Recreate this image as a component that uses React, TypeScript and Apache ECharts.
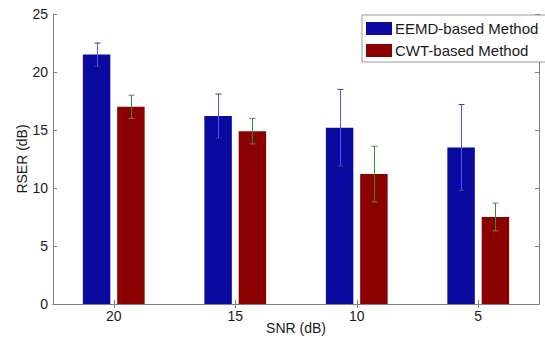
import React, { useEffect, useRef } from "react";
import * as echarts from "echarts";

const categories = ["20", "15", "10", "5"];
const eemdValues = [21.5, 16.2, 15.2, 13.5];
const eemdErrors = [1.0, 1.9, 3.3, 3.7];
const cwtValues = [17.0, 14.9, 11.2, 7.5];
const cwtErrors = [1.0, 1.1, 2.4, 1.2];
const seriesNames = ["EEMD-based Method", "CWT-based Method"];

const FONT = "Liberation Sans, Arial, sans-serif";
const BAR_W = 0.226;
const BAR_GAP = 0.25;

function errorSeries(values: number[], errors: number[], side: number, lineColor: string, capColor: string) {
  return {
    type: "custom",
    xAxisIndex: 0,
    yAxisIndex: 0,
    z: 5,
    silent: true,
    data: values.map((v, i) => [i, v - errors[i], v + errors[i]]),
    renderItem: (params: any, api: any) => {
      const cat = api.value(0);
      const lo = api.value(1);
      const hi = api.value(2);
      const band = api.size([1, 0])[0];
      const w = band * BAR_W;
      const off = (side * (w + w * BAR_GAP)) / 2;
      const pHi = api.coord([cat, hi]);
      const pLo = api.coord([cat, lo]);
      const x = Math.round(pHi[0] + off) + 0.5;
      const cap = 3;
      return {
        type: "group",
        children: [
          { type: "line", shape: { x1: x, y1: pHi[1], x2: x, y2: pLo[1] }, style: { stroke: lineColor, lineWidth: 1 } },
          { type: "line", shape: { x1: x - cap, y1: pHi[1], x2: x + cap, y2: pHi[1] }, style: { stroke: capColor, lineWidth: 1 } },
          { type: "line", shape: { x1: x - cap, y1: pLo[1], x2: x + cap, y2: pLo[1] }, style: { stroke: capColor, lineWidth: 1 } },
        ],
      };
    },
  };
}

export default function App() {
  const ref = useRef<HTMLDivElement>(null);
  useEffect(() => {
    if (!ref.current) return;
    const chart = echarts.init(ref.current, undefined, { renderer: "svg" });
    const axisColor = "#808080";
    const textColor = "#1a1a1a";
    chart.setOption({
      animation: false,
      backgroundColor: "#ffffff",
      textStyle: { fontFamily: FONT },
      grid: { left: 53, right: 6, top: 14, bottom: 36, containLabel: false, outerBoundsMode: "none" },
      legend: {
        orient: "vertical",
        left: 362,
        top: 15,
        padding: [6, 8, 4, 4],
        itemWidth: 26,
        itemHeight: 13,
        itemGap: 7,
        icon: "rect",
        backgroundColor: "#ffffff",
        borderColor: "#999999",
        borderWidth: 1,
        borderRadius: 0,
        textStyle: { fontSize: 15, color: textColor, fontFamily: FONT, padding: [0, 0, 0, -2] },
        data: seriesNames,
      },
      xAxis: [
        {
          type: "category",
          data: categories,
          position: "bottom",
          name: "SNR (dB)",
          nameLocation: "middle",
          nameGap: 24,
          nameMoveOverlap: false,
          nameTextStyle: { fontSize: 14, lineHeight: 14, color: textColor, fontFamily: FONT, verticalAlign: "middle" },
          axisLine: { show: true, lineStyle: { color: axisColor } },
          axisTick: { show: true, inside: true, alignWithLabel: true, length: 4, lineStyle: { color: axisColor } },
          axisLabel: { fontSize: 14, color: textColor, margin: 5, fontFamily: FONT },
          splitLine: { show: false },
        },
        {
          type: "category",
          data: categories,
          position: "top",
          axisLine: { show: true, lineStyle: { color: axisColor } },
          axisTick: { show: true, inside: true, alignWithLabel: true, length: 4, lineStyle: { color: axisColor } },
          axisLabel: { show: false },
          splitLine: { show: false },
        },
      ],
      yAxis: [
        {
          type: "value",
          min: 0,
          max: 25,
          interval: 5,
          position: "left",
          name: "RSER (dB)",
          nameLocation: "middle",
          nameGap: 24,
          nameMoveOverlap: false,
          nameRotate: 90,
          nameTextStyle: { fontSize: 14, color: textColor, fontFamily: FONT },
          axisLine: { show: true, lineStyle: { color: axisColor } },
          axisTick: { show: true, inside: true, length: 4, lineStyle: { color: axisColor } },
          axisLabel: { fontSize: 14, color: textColor, margin: 5, fontFamily: FONT },
          splitLine: { show: false },
        },
        {
          type: "value",
          min: 0,
          max: 25,
          interval: 5,
          position: "right",
          axisLine: { show: true, lineStyle: { color: axisColor } },
          axisTick: { show: true, inside: true, length: 4, lineStyle: { color: axisColor } },
          axisLabel: { show: false },
          splitLine: { show: false },
        },
      ],
      series: [
        {
          name: seriesNames[0],
          type: "bar",
          xAxisIndex: 0,
          yAxisIndex: 0,
          data: eemdValues,
          barWidth: BAR_W * 100 + "%",
          barGap: BAR_GAP * 100 + "%",
          itemStyle: { color: "#0a0aa0" },
        },
        {
          name: seriesNames[1],
          type: "bar",
          xAxisIndex: 0,
          yAxisIndex: 0,
          data: cwtValues,
          barWidth: BAR_W * 100 + "%",
          barGap: BAR_GAP * 100 + "%",
          itemStyle: { color: "#8b0000" },
        },
        errorSeries(eemdValues, eemdErrors, -1, "#5555ff", "#44446a"),
        errorSeries(cwtValues, cwtErrors, 1, "#2e8b2e", "#777777"),
      ],
    });
    return () => chart.dispose();
  }, []);
  return (
    <div
      ref={ref}
      style={{ position: "fixed", left: 0, top: 0, width: 545, height: 340, background: "#fff" }}
    />
  );
}
